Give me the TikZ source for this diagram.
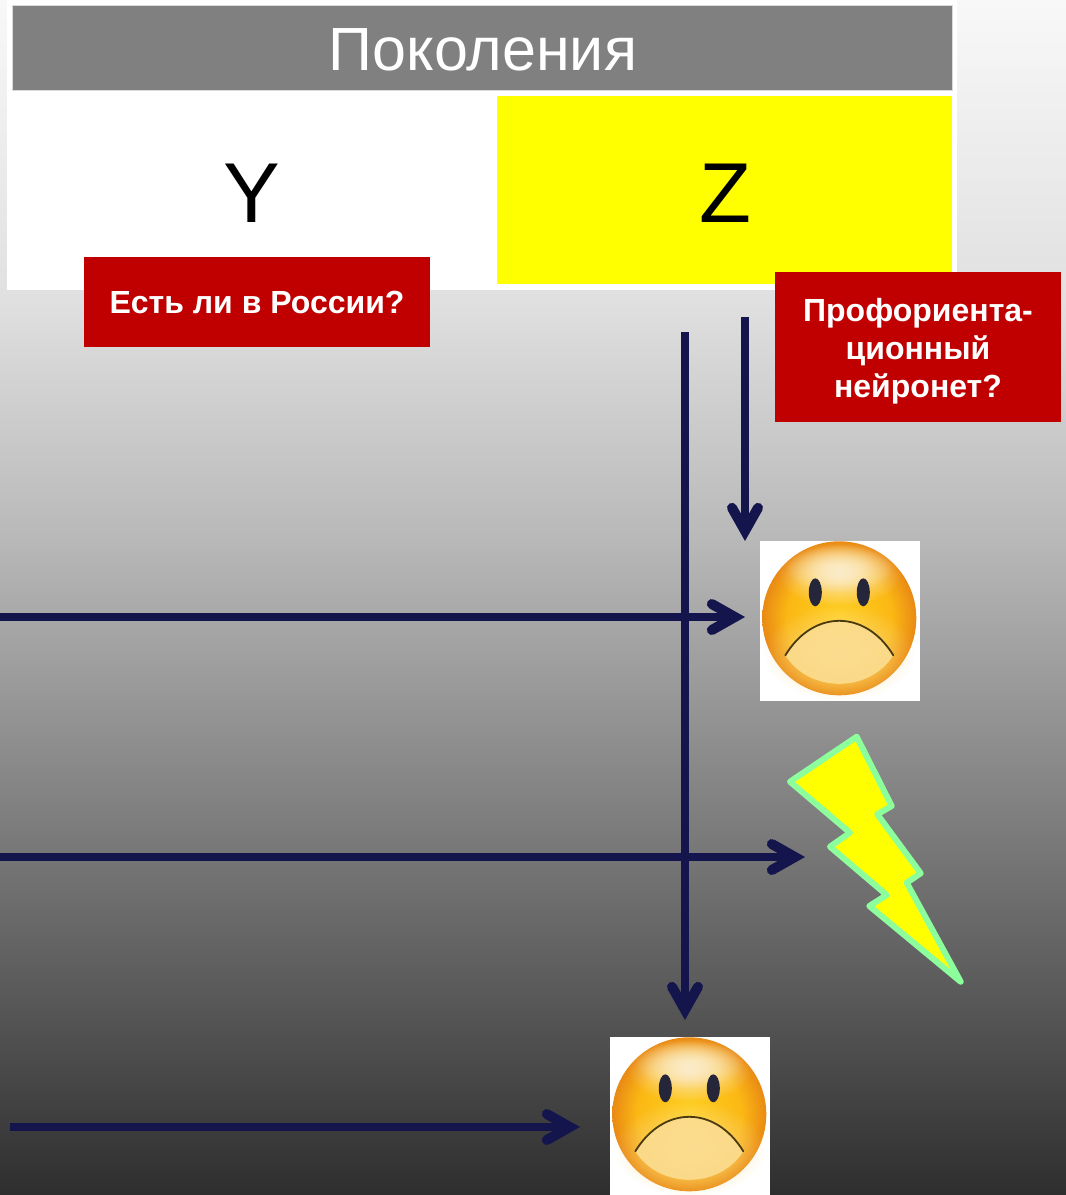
\documentclass[tikz,border=0pt]{standalone}
\usepackage{fontspec}
\setmainfont{Liberation Sans}
\usetikzlibrary{arrows.meta,fadings}
\definecolor{bgA}{HTML}{F8F8F8}
\definecolor{bgB}{HTML}{E0E0E0}
\definecolor{bgC}{HTML}{B8B8B8}
\definecolor{bgD}{HTML}{585858}
\definecolor{bgE}{HTML}{2E2E2E}
\definecolor{navyline}{HTML}{15154D}
\definecolor{boxred}{HTML}{C00000}
\definecolor{cellyellow}{RGB}{255,255,0}
\definecolor{boltedge}{HTML}{8CFF9C}
\definecolor{faceorange}{HTML}{E98A14}
\definecolor{faceyellow}{HTML}{FFD020}
\definecolor{facemid}{HTML}{FBB814}
\definecolor{facepale}{HTML}{FBDD90}
\definecolor{facecream}{HTML}{FBEBC8}
\definecolor{eyedark}{HTML}{26263A}
\definecolor{mouthdark}{HTML}{4A3A10}
\pgfdeclareverticalshading{slidebg}{100bp}{color(0bp)=(bgE); color(25bp)=(bgE); color(33.16bp)=(bgD); color(52.4bp)=(bgC); color(62.45bp)=(bgB); color(75bp)=(bgA); color(100bp)=(bgA)}
\pgfdeclareradialshading{facegrad}{\pgfpoint{0bp}{0bp}}{color(0bp)=(faceyellow); color(17bp)=(facemid); color(25bp)=(faceorange); color(50bp)=(faceorange)}
\tikzfading[name=softoval, inner color=transparent!0, outer color=transparent!100]
\tikzset{
  px/.style={x=1pt,y=-1pt},
  flatbox/.style={rectangle,inner sep=0pt,outer sep=0pt,anchor=north west},
  redbox/.style={flatbox,fill=boxred},
  redtext/.style={text=white,align=center,inner sep=0pt,font=\fontsize{32}{38}\selectfont\bfseries},
  cellfont/.style={font=\fontsize{85}{85}\selectfont,text=black},
  flowline/.style={draw=navyline,line width=7.5pt,-{Straight Barb[length=23pt,width=26pt,line width=10pt,line cap=round,line join=miter]}},
  facebox/.style={rectangle,fill=white,minimum width=160pt,minimum height=160pt,inner sep=0pt,outer sep=0pt},
  boltshape/.style={draw=boltedge,fill=cellyellow,line width=6pt,line join=round},
  sadface/.pic={
    \begin{scope}[shift={(-0.7,-2.7)}]
    \shade[shading=facegrad] (0,0) circle[radius=77];
    \fill[facecream,path fading=softoval] (0,-44) ellipse[x radius=62,y radius=32];
    \fill[facecream,path fading=softoval] (0,-50) ellipse[x radius=54,y radius=24];
    \fill[facepale,path fading=softoval] (0,34) ellipse[x radius=76,y radius=48];
    \fill[facepale,opacity=.9] (-54,37) .. controls (-26,-9) and (26,-9) .. (54,37) .. controls (30,75) and (-30,75) .. cycle;
    \fill[eyedark] (-24,-26) ellipse[x radius=6.5,y radius=14];
    \fill[eyedark] (24,-26) ellipse[x radius=6.5,y radius=14];
    \draw[mouthdark,line width=1.8pt,line cap=round] (-54,37) .. controls (-26,-9) and (26,-9) .. (54,37);
    \end{scope}
  }
}
\begin{document}
\begin{tikzpicture}[px]
\useasboundingbox (0,0) rectangle (1066,1195);
\shade[shading=slidebg] (0,0) rectangle (1066,1195);
% table
\node[flatbox,fill=white,minimum width=950pt,minimum height=290pt] (table) at (7,0) {};
\node[flatbox,fill=gray,draw=black!15,line width=1pt,minimum width=940pt,minimum height=85pt] (header) at (12,5) {};
\node[text=white,font=\fontsize{61}{61}\selectfont] (title) at (483,50) {Поколения};
\node[flatbox,fill=cellyellow,minimum width=455pt,minimum height=188pt] (zcell) at (497,96) {};
\node[cellfont] (ylabel) at (252,193) {Y};
\node[cellfont] (zlabel) at (725,193) {Z};
% red boxes
\node[redbox,minimum width=346pt,minimum height=90pt] (russia) at (84,257) {};
\node[redtext] (russiatext) at (257,302) {Есть ли в России?};
\node[redbox,minimum width=286pt,minimum height=150pt] (neuro) at (775,272) {};
\node[redtext] (neurotext) at (918,351) {Профориента-\\ционный\\нейронет?};
% faces and bolt
\node[facebox] (faceA) at (840,621) {};
\pic at (faceA.center) {sadface};
\node[facebox] (faceB) at (690,1117) {};
\pic at (faceB.center) {sadface};
\draw[boltshape] (856.7,736.7) -- (891.7,806) -- (877.3,814.3) -- (920.7,873.3) -- (906.7,882.7) -- (960.7,981.7) -- (869.3,906) -- (886.7,895) -- (830,846.7) -- (850,832.7) -- (790,781.7) -- cycle;
% connector ends
\coordinate (v1s) at (685,332);
\coordinate (v1e) at (685,1020);
\coordinate (v2s) at (745,317);
\coordinate (v2e) at (745,541);
\coordinate (h1s) at (0,617);
\coordinate (h1e) at (745,617);
\coordinate (h2s) at (0,857);
\coordinate (h2e) at (805,857);
\coordinate (h3s) at (10,1127);
\coordinate (h3e) at (580,1127);
\draw[flowline] (v1s) -- (v1e);
\draw[flowline] (v2s) -- (v2e);
\draw[flowline] (h1s) -- (h1e);
\draw[flowline] (h2s) -- (h2e);
\draw[flowline] (h3s) -- (h3e);
\end{tikzpicture}
\end{document}
